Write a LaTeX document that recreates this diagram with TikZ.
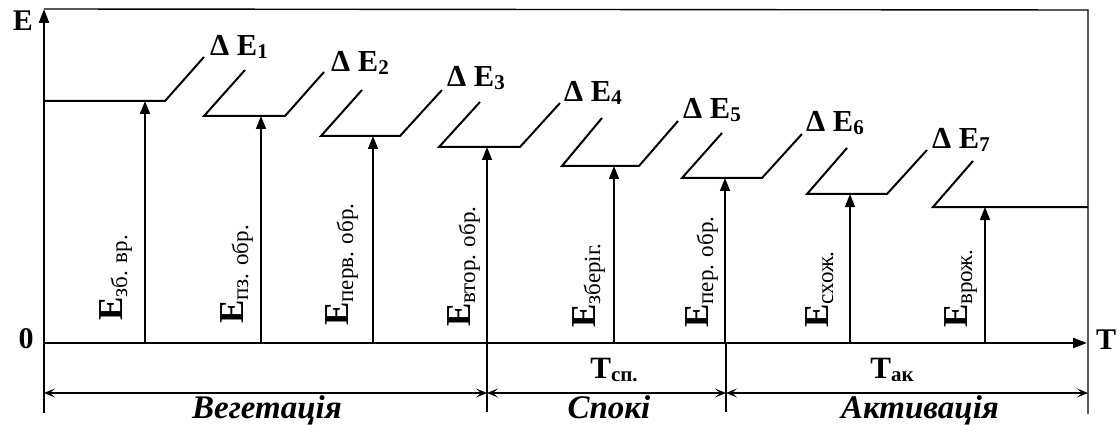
\documentclass[tikz,border=0pt]{standalone}
\usepackage{fontspec}
\setmainfont{Liberation Serif}
\usetikzlibrary{arrows.meta}

% energy label: bold E with a lowered regular subscript
\newcommand\enlab[1]{{\fontsize{35}{35}\selectfont\bfseries E}\raisebox{-5pt}{\fontsize{23}{23}\selectfont #1}}
% energy step: bold Delta E with a bold index
\newcommand\dlab[1]{\fontsize{30.5}{30.5}\selectfont\bfseries Δ E\raisebox{-3pt}{\fontsize{21}{21}\selectfont #1}}
% period: bold T with a bold subscript
\newcommand\tlab[1]{\fontsize{31}{31}\selectfont\bfseries T\raisebox{-3pt}{\fontsize{21}{21}\selectfont #1}}

\tikzset{
  axisline/.style={line width=2.4pt, -{Triangle[length=14pt,width=10pt]}},
  frameline/.style={line width=1.4pt},
  levelline/.style={line width=2pt, line join=miter},
  uparrow/.style={line width=1.5pt, -{Triangle[length=13pt,width=10pt]}},
  tickline/.style={line width=1.4pt},
  dimline/.style={line width=1.3pt, {Stealth[length=11pt,width=9pt,inset=5pt]}-{Stealth[length=11pt,width=9pt,inset=5pt]}},
  rotlab/.style={rotate=90, inner sep=0pt, anchor=base west},
  steplab/.style={inner sep=0pt, anchor=base west},
  axislab/.style={inner sep=0pt, anchor=base, font=\fontsize{30}{30}\selectfont\bfseries},
  phaselab/.style={inner sep=0pt, anchor=base, font=\fontsize{33}{33}\selectfont\bfseries\itshape},
  perlab/.style={inner sep=0pt, anchor=base}
}

\begin{document}
\begin{tikzpicture}[x=1pt,y=-1pt]
\useasboundingbox (0,0) rectangle (1117,425);

% axes and frame
\coordinate (O) at (44,343);
\coordinate (ytip) at (44,9);
\coordinate (xtip) at (1087,343);
\coordinate (fr1) at (1088,10);
\coordinate (fr2) at (1088,414);
\draw[frameline] (ytip) -- (fr1) -- (fr2);
\draw[axisline] (O) -- (ytip);
\draw[axisline] (O) -- (xtip);
\node[axislab] (Elab) at (23,31) {E};
\node[axislab] (zero) at (26,348) {0};
\node[axislab] (Tlab) at (1106,349) {T};

% energy levels with the steps between them
\draw[levelline] (44,101) -- (165,101) -- (204,57);
\draw[levelline] (245,70) -- (204,116) -- (285,116) -- (324,72);
\draw[levelline] (362,90) -- (321,136) -- (400,136) -- (442,90);
\draw[levelline] (480,102) -- (439,147) -- (520,147) -- (560,103);
\draw[levelline] (602,118) -- (562,166) -- (639,166) -- (678,121);
\draw[levelline] (722,133) -- (682,178) -- (762,178) -- (802,134);
\draw[levelline] (847,148) -- (807,194) -- (887,194) -- (927,150);
\draw[levelline] (973,161) -- (933,207) -- (1088,207);

% step labels
\node[steplab] (de1) at (210,56) {\dlab{1}};
\node[steplab] (de2) at (331,72) {\dlab{2}};
\node[steplab] (de3) at (447,87) {\dlab{3}};
\node[steplab] (de4) at (564,102) {\dlab{4}};
\node[steplab] (de5) at (683,119) {\dlab{5}};
\node[steplab] (de6) at (806,132) {\dlab{6}};
\node[steplab] (de7) at (932,149) {\dlab{7}};

% vertical energy arrows
\foreach \i/\x/\y in {1/145/101, 2/261/116, 3/373/136, 4/487/147,
                      5/614/166, 6/725/178, 7/850/194, 8/985/207} {
  \coordinate (b\i) at (\x,343);
  \coordinate (t\i) at (\x,\y);
  \draw[uparrow] (b\i) -- (t\i);
}

% arrow labels
\node[rotlab] (l1) at (122,321) {\enlab{зб. вр.}};
\node[rotlab] (l2) at (243,324) {\enlab{пз. обр.}};
\node[rotlab] (l3) at (348,326) {\enlab{перв. обр.}};
\node[rotlab] (l4) at (470,327) {\enlab{втор. обр.}};
\node[rotlab] (l5) at (595,328) {\enlab{зберіг.}};
\node[rotlab] (l6) at (708,328) {\enlab{пер. обр.}};
\node[rotlab] (l7) at (828,328) {\enlab{схож.}};
\node[rotlab] (l8) at (967,328) {\enlab{врож.}};

% period dimensions
\coordinate (d0) at (44,393);
\coordinate (d1) at (487,393);
\coordinate (d2) at (726,393);
\coordinate (d3) at (1088,393);
\coordinate (k0) at (44,413);
\coordinate (k1) at (487,412);
\coordinate (k2) at (726,412);
\coordinate (a2) at (726,343);
\draw[tickline] (O) -- (k0);
\draw[tickline] (b4) -- (k1);
\draw[tickline] (a2) -- (k2);
\draw[dimline] (d0) -- (d1);
\draw[dimline] (d1) -- (d2);
\draw[dimline] (d2) -- (d3);

\node[perlab] (tsp) at (614,378) {\tlab{сп.}};
\node[perlab] (tak) at (892,378) {\tlab{ак}};
\node[phaselab] (veg) at (267,418.5) {Вегетація};
\node[phaselab] (spo) at (609,418.5) {Спокі};
\node[phaselab] (akt) at (920,418.5) {Активація};
\end{tikzpicture}
\end{document}
